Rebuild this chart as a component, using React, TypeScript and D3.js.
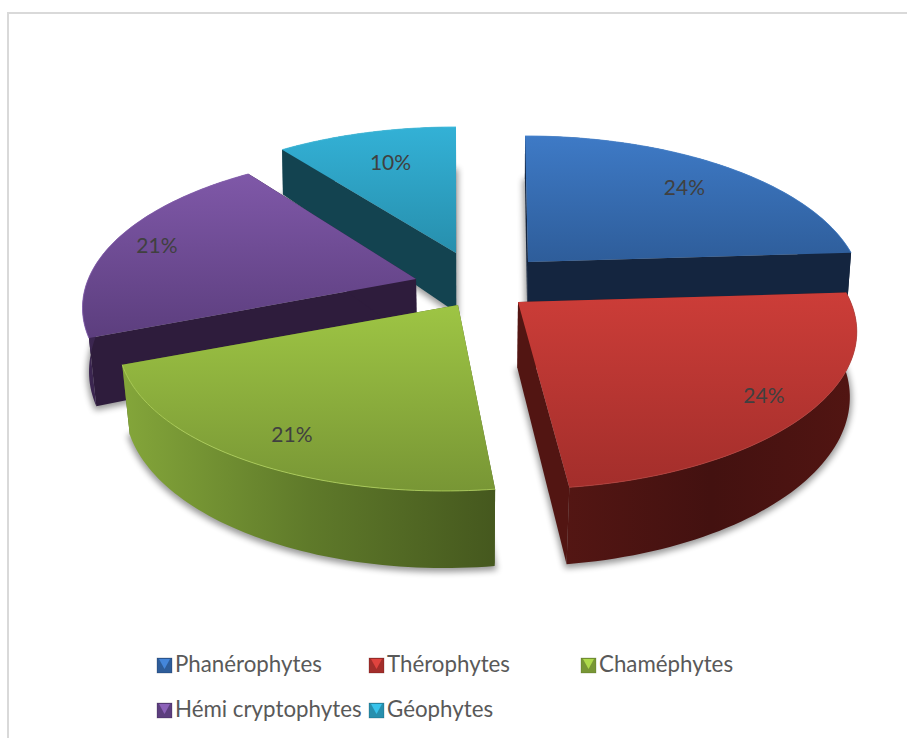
import React from "react";
import * as d3 from "d3";

// ---- data ----
const categories = ["Phanérophytes", "Thérophytes", "Chaméphytes", "Hémi cryptophytes", "Géophytes"];
const values = [24, 24, 21, 21, 10];

// ---- styling and layout (not data) ----
const topLight = ["#3e7ac6", "#cc3d38", "#9ec544", "#7f58a8", "#33b1d6"];
const topDark = ["#2e5d9a", "#a32e2b", "#789635", "#5c3e7e", "#278fad"];
const wallFlat = ["#14253f", "#521512", "#4a5c20", "#2e1c3c", "#134350"];
const wallLeft = ["#14253f", "#531613", "#84a63a", "#3d2753", "#134350"];
const wallMid = ["#14253f", "#431110", "#5f7a2a", "#2e1c3c", "#134350"];
const wallRight = ["#14253f", "#521512", "#45581e", "#2e1c3c", "#134350"];
const edgeGlow = ["#4a86d0", "#b8443e", "#b4d65e", "#8a64b4", "#46bfe0"];
const W = 907, H = 738;
const center = { x: 480, y: 282 };
const pullDx = [48, 38, -22, -64, -24];
const pullDy = [-20, 20, 23, -3, -29];
const sliceScale = [0.99, 1.005, 1, 0.99, 0.99];
const sliceShear = [3, 0, -14, 0, 0];
const startNudge = [0, 0, 0, 0, -1.5];
const labelRadius = [0.77, 0.86, 0.85, 0.86, 0.73];
const drawOrder = [4, 3, 0, 1, 2];
const A = 331, B = 151, K = 0.188;
const legendCols = [157, 369, 581];
const legendRows = [658, 703];

const depthAt = d3.scaleLinear().domain([150, 300, 490]).range([45, 66, 77]);
const tiltAt = d3.scaleLinear().domain([100, 490]).range([0, 0.031]);
const pieGen = d3.pie<number>().sort(null).startAngle(0).endAngle(2 * Math.PI);
const arcs = pieGen(values);
const toPath = d3.line<[number, number]>();

type P = [number, number];
function project(i: number, angle: number, r: number, shear: number): P {
  const rr = r * sliceScale[i];
  const x = rr * Math.sin(angle), z = -rr * Math.cos(angle);
  const w = 1 - K * z;
  return [center.x + pullDx[i] + (A * x) / w + shear * z, center.y + pullDy[i] + (B * z) / w];
}
function lower([x, y]: P): P {
  return [x + (center.x - x) * tiltAt(y), y + depthAt(y)];
}
function closed(pts: P[]) {
  return (toPath(pts) as string) + "Z";
}

function Slice({ i }: { i: number }) {
  const a = arcs[i];
  const apex: P = [center.x + pullDx[i], center.y + pullDy[i]];
  const start = a.startAngle + (startNudge[i] * Math.PI) / 180;
  const steps = d3.range(0, 61).map((k) => start + ((a.endAngle - start) * k) / 60);
  const rim = steps.map((t) => project(i, t, 1, sliceShear[i]));
  const rimLow = rim.map(lower);
  const first = rim[0], last = rim[rim.length - 1];
  const outerWall = closed([...rim, ...[...rimLow].reverse()]);
  const wallA = closed([apex, first, lower(first), lower(apex)]);
  const wallB = closed([apex, last, lower(last), lower(apex)]);
  const top = closed([apex, ...rim]);
  const floor = closed([lower(apex), ...rimLow]);
  return (
    <g>
      <path d={floor} fill="#000" stroke="#000" strokeWidth={4} opacity={0.4} filter="url(#soft)" transform="translate(0,2)" />
      <path d={wallA} fill={wallFlat[i]} />
      <path d={wallB} fill={wallFlat[i]} />
      <path d={outerWall} fill={`url(#wall${i})`} />
      <path d={top} fill={`url(#top${i})`} />
      <path d={toPath(rim) as string} fill="none" stroke={edgeGlow[i]} strokeWidth={1} opacity={0.8} />
    </g>
  );
}

function Marker({ i, x, y }: { i: number; x: number; y: number }) {
  const s = 15, b = 3;
  return (
    <g transform={`translate(${x},${y})`}>
      <rect width={s} height={s} fill={topDark[i]} stroke={wallRight[i] === wallLeft[i] ? wallFlat[i] : wallRight[i]} strokeOpacity={0.5} strokeWidth={0.5} />
      <path d={`M${b - 1},1L${s - b + 1},1L${s / 2},${s - b - 1}Z`} fill={topLight[i]} style={{ filter: "brightness(1.1)" }} />
    </g>
  );
}

export default function App() {
  return (
    <svg width={W} height={H} viewBox={`0 0 ${W} ${H}`} style={{ position: "absolute", left: 0, top: 0, display: "block", background: "#fff" }}>
      <defs>
        <filter id="soft" x="-10%" y="-10%" width="120%" height="120%">
          <feGaussianBlur stdDeviation={3} />
        </filter>
        {values.map((_, i) => (
          <React.Fragment key={i}>
            <linearGradient id={`top${i}`} x1="0" y1="0" x2="0" y2="1">
              <stop offset="0" stopColor={topLight[i]} />
              <stop offset="1" stopColor={topDark[i]} />
            </linearGradient>
            <linearGradient id={`wall${i}`} x1="0" y1="0" x2="1" y2="0">
              <stop offset="0" stopColor={wallLeft[i]} />
              <stop offset="0.5" stopColor={wallMid[i]} />
              <stop offset="1" stopColor={wallRight[i]} />
            </linearGradient>
          </React.Fragment>
        ))}
      </defs>
      <path d={`M8,${H}V13H${W}`} fill="none" stroke="#d9d9d9" strokeWidth={2} />
      {drawOrder.map((i) => (
        <Slice key={i} i={i} />
      ))}
      {arcs.map((a, i) => {
        const [x, y] = project(i, (a.startAngle + a.endAngle) / 2, labelRadius[i], 0);
        return (
          <text key={i} x={x} y={y} textAnchor="middle" dominantBaseline="central" fontFamily="Lato" fontSize={21} fill="#404040">
            {values[i]}%
          </text>
        );
      })}
      {categories.map((c, i) => {
        const col = i < 3 ? i : i - 3;
        const row = i < 3 ? 0 : 1;
        return (
          <g key={c}>
            <Marker i={i} x={legendCols[col]} y={legendRows[row]} />
            <text x={legendCols[col] + 18} y={legendRows[row] + 14} fontFamily="Lato" fontSize={22.3} fill="#595959">
              {c}
            </text>
          </g>
        );
      })}
    </svg>
  );
}
